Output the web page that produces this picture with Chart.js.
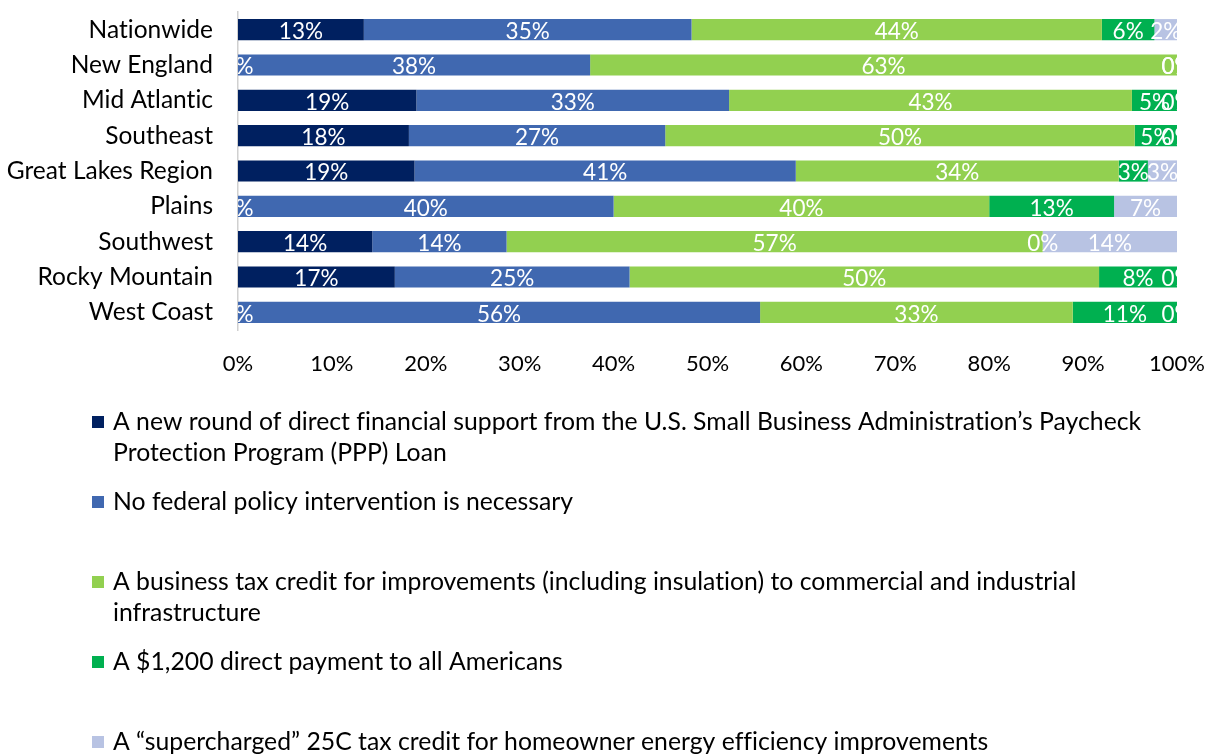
<!DOCTYPE html>
<html><head><meta charset="utf-8">
<script src="https://cdn.jsdelivr.net/npm/chart.js@4"></script>
<style>html,body{margin:0;padding:0;background:#fff}#wrap{width:1215px;height:756px;position:relative}canvas{display:block}</style>
</head><body><div id="wrap"><canvas id="c" width="1215" height="756" style="width:1215px;height:756px"></canvas></div>
<script>
const categories = ['Nationwide','New England','Mid Atlantic','Southeast','Great Lakes Region','Plains','Southwest','Rocky Mountain','West Coast'];
const seriesLegend = [
  ['A new round of direct financial support from the U.S. Small Business Administration\u2019s Paycheck', 'Protection Program (PPP) Loan'],
  ['No federal policy intervention is necessary'],
  ['A business tax credit for improvements (including insulation) to commercial and industrial', 'infrastructure'],
  ['A $1,200 direct payment to all Americans'],
  ['A \u201csupercharged\u201d 25C tax credit for homeowner energy efficiency improvements']
];
const pppLoan         = [13.4, 0,    19.0, 18.2, 18.8, 0,    14.3, 16.7, 0];
const noIntervention  = [34.9, 37.5, 33.3, 27.3, 40.6, 40.0, 14.3, 25.0, 55.6];
const businessCredit  = [43.7, 62.5, 42.9, 50.0, 34.4, 40.0, 57.1, 50.0, 33.3];
const directPayment   = [5.6,  0,    4.8,  4.5,  3.1,  13.3, 0,    8.3,  11.1];
const homeownerCredit = [2.4,  0,    0,    0,    3.1,  6.7,  14.3, 0,    0];
const xTickLabels = ['0%','10%','20%','30%','40%','50%','60%','70%','80%','90%','100%'];
const seriesColors = ['#002060','#4068B0','#92D050','#00B050','#B8C3E3'];

const FONT = 'Lato';
const seriesValues = [pppLoan, noIntervention, businessCredit, directPayment, homeownerCredit];

const noLigPlugin = {
  id: 'noLig',
  beforeDraw(chart) {
    try { chart.ctx.textRendering = 'optimizeSpeed'; } catch (e) {}
    try { chart.ctx.letterSpacing = '0.01px'; } catch (e) {}
  }
};

const labelPlugin = {
  id: 'segLabels',
  afterDatasetsDraw(chart) {
    const ctx = chart.ctx, a = chart.chartArea;
    ctx.save();
    ctx.beginPath();
    ctx.rect(a.left, a.top, a.right - a.left, a.bottom - a.top);
    ctx.clip();
    ctx.font = '22.5px ' + FONT;
    ctx.fillStyle = '#ffffff';
    ctx.textAlign = 'center';
    ctx.textBaseline = 'middle';
    chart.data.datasets.forEach((ds, di) => {
      const meta = chart.getDatasetMeta(di);
      meta.data.forEach((el, i) => {
        const v = ds.data[i];
        const cx = (el.x + el.base) / 2;
        ctx.fillText(Math.round(v) + '%', cx, el.y + 2);
      });
    });
    ctx.restore();
  }
};

const legendPlugin = {
  id: 'customLegend',
  afterDraw(chart) {
    const ctx = chart.ctx;
    const bottom = chart.chartArea.bottom;
    ctx.save();
    ctx.font = '24.75px ' + FONT;
    ctx.textAlign = 'left';
    ctx.textBaseline = 'middle';
    chart.data.datasets.forEach((ds, i) => {
      const y0 = bottom + 92 + i * 80;
      ctx.fillStyle = ds.backgroundColor;
      ctx.fillRect(92, y0 - 6, 12, 12);
      ctx.fillStyle = '#000';
      ds.legendLines.forEach((line, li) => {
        ctx.fillText(line, 113, y0 + li * 31);
      });
    });
    ctx.restore();
  }
};

new Chart(document.getElementById('c'), {
  type: 'bar',
  data: {
    labels: categories,
    datasets: seriesValues.map((vals, i) => ({
      label: seriesLegend[i].join(' '),
      legendLines: seriesLegend[i],
      data: vals,
      backgroundColor: seriesColors[i],
      borderWidth: 0,
      barPercentage: 0.6,
      categoryPercentage: 1.0
    }))
  },
  options: {
    indexAxis: 'y',
    responsive: false,
    animation: false,
    devicePixelRatio: 1,
    layout: { padding: { top: 12, right: 38, left: 0, bottom: 0 } },
    plugins: { legend: { display: false }, tooltip: { enabled: false } },
    scales: {
      x: {
        stacked: true, min: 0, max: 100,
        grid: { display: false, drawTicks: false },
        border: { display: false },
        ticks: { stepSize: 10, padding: 21, color: '#000', font: { family: FONT, size: 22 },
          callback: (v, idx) => xTickLabels[idx] },
        afterFit: s => { s.height = 756 - 12 - 318; s.paddingLeft = 0; s.paddingRight = 0; s.paddingTop = 0; s.paddingBottom = 0; }
      },
      y: {
        stacked: true,
        grid: { display: false, drawTicks: false },
        border: { display: true, color: '#D0D0D0', width: 1.5 },
        ticks: { padding: 25, color: '#000', font: { family: FONT, size: 24.5 } },
        afterFit: s => { s.width = 238; s.paddingLeft = 0; s.paddingRight = 0; s.paddingTop = 0; s.paddingBottom = 0; }
      }
    }
  },
  plugins: [noLigPlugin, labelPlugin, legendPlugin]
});
</script>
</body></html>
